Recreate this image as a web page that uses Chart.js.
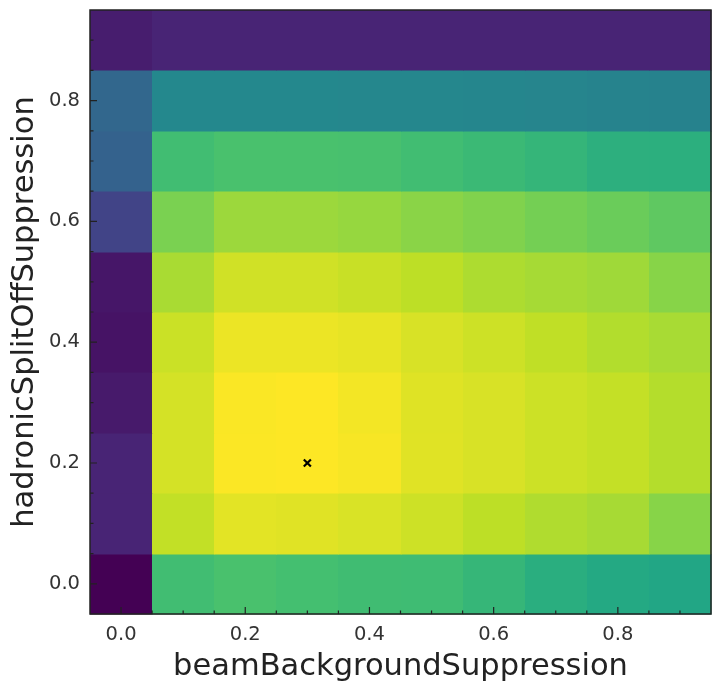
<!DOCTYPE html>
<html>
<head>
<meta charset="utf-8">
<script src="https://cdn.jsdelivr.net/npm/chart.js@4.4.1/dist/chart.umd.min.js"></script>
<style>
  html, body { margin: 0; padding: 0; background: #fff; }
  #wrap { width: 712px; height: 682px; }
</style>
</head>
<body>
<div id="wrap"><canvas id="heat"></canvas></div>
<script>
// grid of the scan
const xValues = [0.0, 0.1, 0.2, 0.3, 0.4, 0.5, 0.6, 0.7, 0.8, 0.9];
const yValues = [0.0, 0.1, 0.2, 0.3, 0.4, 0.5, 0.6, 0.7, 0.8, 0.9];

// normalised score, one row per yValue (bottom row first), one column per xValue
const scores = [
  [0.00, 0.690, 0.710, 0.700, 0.688, 0.685, 0.660, 0.624, 0.606, 0.590],
  [0.10, 0.908, 0.960, 0.955, 0.944, 0.925, 0.900, 0.880, 0.867, 0.820],
  [0.10, 0.936, 0.997, 1.000, 0.990, 0.955, 0.942, 0.923, 0.911, 0.887],
  [0.07, 0.936, 0.995, 1.000, 0.985, 0.953, 0.942, 0.923, 0.911, 0.887],
  [0.05, 0.920, 0.973, 0.973, 0.965, 0.942, 0.925, 0.905, 0.884, 0.868],
  [0.06, 0.870, 0.930, 0.930, 0.917, 0.900, 0.876, 0.865, 0.855, 0.820],
  [0.20, 0.800, 0.850, 0.850, 0.842, 0.824, 0.809, 0.789, 0.770, 0.750],
  [0.31, 0.690, 0.710, 0.710, 0.707, 0.690, 0.674, 0.656, 0.632, 0.630],
  [0.33, 0.465, 0.465, 0.465, 0.460, 0.458, 0.455, 0.450, 0.445, 0.440],
  [0.08, 0.100, 0.100, 0.100, 0.100, 0.100, 0.100, 0.100, 0.100, 0.100]
];

// best point
const bestX = [0.3];
const bestY = [0.2];

const majorTicks = [0.0, 0.2, 0.4, 0.6, 0.8];
const cellSize = 0.1;

// viridis stops
const viridis = ['#440154', '#482475', '#414487', '#355f8d', '#2a788e', '#21918c',
                 '#22a884', '#44bf70', '#7ad151', '#bddf26', '#fde725'];

function hexToRgb(h) {
  return [parseInt(h.slice(1, 3), 16), parseInt(h.slice(3, 5), 16), parseInt(h.slice(5, 7), 16)];
}

function colorFor(v, vmin, vmax) {
  let t = (v - vmin) / (vmax - vmin);
  t = Math.max(0, Math.min(1, t));
  const pos = t * (viridis.length - 1);
  const i = Math.min(Math.floor(pos), viridis.length - 2);
  const f = pos - i;
  const a = hexToRgb(viridis[i]), b = hexToRgb(viridis[i + 1]);
  const c = a.map((ch, k) => Math.round(ch + (b[k] - ch) * f));
  return 'rgb(' + c.join(',') + ')';
}

const flat = scores.flat();
const vmin = Math.min(...flat);
const vmax = Math.max(...flat);

// draws the cells under the datasets, using the scales
const heatPlugin = {
  id: 'heat',
  beforeDatasetsDraw(chart) {
    const { ctx, scales: { x, y } } = chart;
    ctx.save();
    yValues.forEach((yv, j) => {
      xValues.forEach((xv, i) => {
        const x0 = Math.round(x.getPixelForValue(xv - cellSize / 2));
        const x1 = Math.round(x.getPixelForValue(xv + cellSize / 2));
        const y0 = Math.round(y.getPixelForValue(yv + cellSize / 2));
        const y1 = Math.round(y.getPixelForValue(yv - cellSize / 2));
        ctx.fillStyle = colorFor(scores[j][i], vmin, vmax);
        ctx.fillRect(x0, y0, x1 - x0 + 0.5, y1 - y0 + 0.5);
      });
    });
    ctx.restore();
  },
  afterDatasetsDraw(chart) {
    const { ctx, chartArea: a, scales: { x, y } } = chart;
    ctx.save();
    ctx.strokeStyle = '#222';
    ctx.lineWidth = 1.2;
    // inward ticks, minor every 0.05
    for (let k = 0; k <= 18; k++) {
      const val = Math.round(k * 5) / 100;
      const major = majorTicks.some(m => Math.abs(m - val) < 1e-6);
      const len = major ? 7 : 3.5;
      const px = x.getPixelForValue(val);
      const py = y.getPixelForValue(val);
      ctx.beginPath();
      ctx.moveTo(px, a.bottom);
      ctx.lineTo(px, a.bottom - len);
      ctx.moveTo(a.left, py);
      ctx.lineTo(a.left + len, py);
      ctx.stroke();
    }
    // frame
    ctx.lineWidth = 1.5;
    ctx.strokeRect(a.left, a.top, a.right - a.left, a.bottom - a.top);
    ctx.restore();
  }
};

const ctx = document.getElementById('heat').getContext('2d');
new Chart(ctx, {
  type: 'scatter',
  data: {
    datasets: [{
      label: 'best',
      data: bestX.map((v, i) => ({ x: v, y: bestY[i] })),
      pointStyle: 'crossRot',
      pointRadius: 5,
      borderColor: '#000',
      borderWidth: 2.2
    }]
  },
  options: {
    responsive: true,
    maintainAspectRatio: false,
    animation: false,
    layout: { autoPadding: false, padding: { top: 10, right: 1, left: 0, bottom: 0 } },
    scales: {
      x: {
        type: 'linear',
        min: -0.05,
        max: 0.95,
        afterBuildTicks: s => { s.ticks = majorTicks.map(v => ({ value: v })); },
        afterFit: s => { s.height = 68; s.paddingLeft = 0; s.paddingRight = 0; },
        grid: { display: false, drawTicks: false },
        border: { display: false },
        ticks: {
          padding: 9,
          color: '#333',
          font: { family: 'DejaVu Sans', size: 19.5 },
          callback: v => v.toFixed(1)
        },
        title: {
          display: true,
          text: 'beamBackgroundSuppression',
          color: '#222',
          padding: { top: 0, bottom: -3 },
          font: { family: 'DejaVu Sans', size: 30.5 }
        }
      },
      y: {
        type: 'linear',
        min: -0.05,
        max: 0.95,
        afterBuildTicks: s => { s.ticks = majorTicks.map(v => ({ value: v })); },
        afterFit: s => { s.width = 90; s.paddingTop = 0; s.paddingBottom = 0; },
        grid: { display: false, drawTicks: false },
        border: { display: false },
        ticks: {
          padding: 10,
          color: '#333',
          font: { family: 'DejaVu Sans', size: 19.5 },
          callback: v => v.toFixed(1)
        },
        title: {
          display: true,
          text: 'hadronicSplitOffSuppression',
          color: '#222',
          padding: { top: 7, bottom: 0 },
          font: { family: 'DejaVu Sans', size: 30.5 }
        }
      }
    },
    plugins: {
      legend: { display: false },
      tooltip: { enabled: false }
    }
  },
  plugins: [heatPlugin]
});
</script>
</body>
</html>
